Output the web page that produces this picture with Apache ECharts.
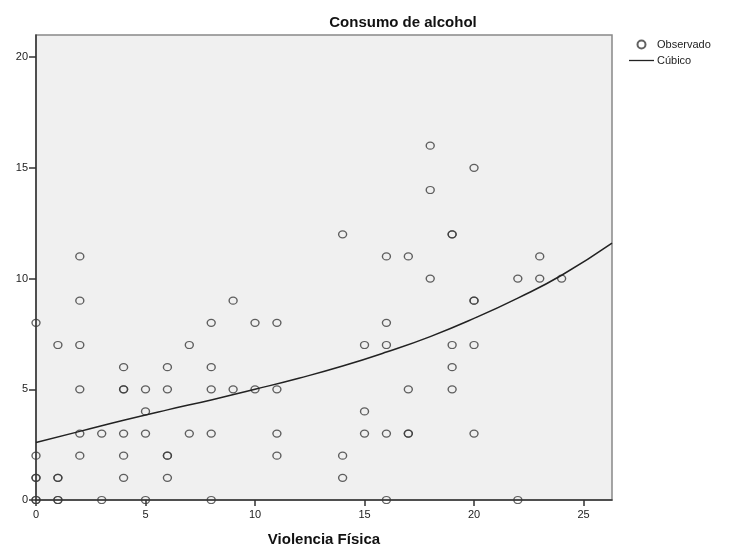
<!DOCTYPE html>
<html><head><meta charset="utf-8">
<script src="https://cdn.jsdelivr.net/npm/echarts@6/dist/echarts.min.js"></script>
<style>html,body{margin:0;padding:0;background:#fff}#c{width:729px;height:552px}</style>
</head><body><div id="c"></div>
<script>
// Observed points: Violencia Física (x), Consumo de alcohol (y)
const obsX = [0,0,0,0,0,0, 1,1,1,1,1, 2,2,2,2,2,2, 3,3, 4,4,4,4,4,4, 5,5,5,5, 6,6,6,6,6, 7,7, 8,8,8,8,8, 9,9, 10,10, 11,11,11,11, 14,14,14, 15,15,15, 16,16,16,16,16, 17,17,17,17, 18,18,18, 19,19,19,19,19, 20,20,20,20,20, 22,22, 23,23, 24];
const obsY = [8,2,1,1,0,0, 7,1,1,0,0, 11,9,7,5,3,2, 3,0, 6,5,5,3,2,1, 5,4,3,0, 6,5,2,2,1, 7,3, 8,6,5,3,0, 9,5, 8,5, 8,5,3,2, 12,2,1, 7,4,3, 11,8,7,3,0, 11,5,3,3, 16,14,10, 12,12,7,6,5, 15,9,9,7,3, 10,0, 11,10, 10];
// Cubic fit curve
const fitX = [0,2,4,6,8,10,12,14,16,18,20,22,24,26.3];
const fitY = [2.6,3.1,3.6,4.07,4.52,5.0,5.5,6.05,6.68,7.38,8.2,9.12,10.15,11.6];
const xTicks = [0,5,10,15,20,25];
const yTicks = [0,5,10,15,20];

const chart = echarts.init(document.getElementById('c'));
const font = 'Liberation Sans, Arial, sans-serif';
chart.setOption({
  animation:false,
  backgroundColor:'#fff',
  textStyle:{fontFamily:font},
  title:{text:'Consumo de alcohol', left:398, top:10, textAlign:'center',
    textStyle:{fontSize:15, fontWeight:'bold', color:'#111', fontFamily:font}},
  legend:{left:624, top:34, orient:'vertical', itemWidth:25, itemHeight:8, itemGap:5, padding:[5,5,5,5],
    textStyle:{fontSize:11, color:'#222', fontFamily:font, padding:[0,0,0,-2]},
    data:[{name:'Observado', icon:'circle'}, {name:'Cúbico', icon:'path://M0,0 L25,0 L25,1.3 L0,1.3 Z'}]},
  grid:{left:36, right:117, top:35, bottom:49, show:true, backgroundColor:'#F0F0F0', borderColor:'#888', borderWidth:1.5},
  xAxis:{type:'value', min:0, max:26.3, interval:5, name:'Violencia Física', nameLocation:'middle', nameGap:32,
    nameTextStyle:{fontSize:15, fontWeight:'bold', color:'#111', fontFamily:font},
    axisLine:{show:true, lineStyle:{color:'#333', width:1.5}},
    axisTick:{show:true, length:6, lineStyle:{color:'#333', width:1.5}},
    axisLabel:{fontSize:11, color:'#222', margin:9, showMaxLabel:false,
      formatter:v=> xTicks.includes(v)? String(v):''},
    splitLine:{show:false}},
  yAxis:{type:'value', min:0, max:21, interval:5,
    axisLine:{show:true, lineStyle:{color:'#333', width:1.5}},
    axisTick:{show:true, length:7, lineStyle:{color:'#333', width:1.5}},
    axisLabel:{fontSize:11, color:'#222', margin:8, showMaxLabel:false,
      formatter:v=> yTicks.includes(v)? String(v):''},
    splitLine:{show:false}},
  series:[
    {name:'Observado', type:'scatter', symbol:'circle', symbolSize:[8,7], clip:false,
      itemStyle:{color:'rgba(240,240,240,0)', borderColor:'#3a3a3a', borderWidth:1.3},
      data: obsX.map((x,i)=>[x, obsY[i]]), z:3},
    {name:'Cúbico', type:'line', smooth:true, showSymbol:false, symbol:'none',
      lineStyle:{color:'#222', width:1.5}, itemStyle:{color:'#222'},
      data: fitX.map((x,i)=>[x, fitY[i]]), z:4}
  ]
});
</script></body></html>
